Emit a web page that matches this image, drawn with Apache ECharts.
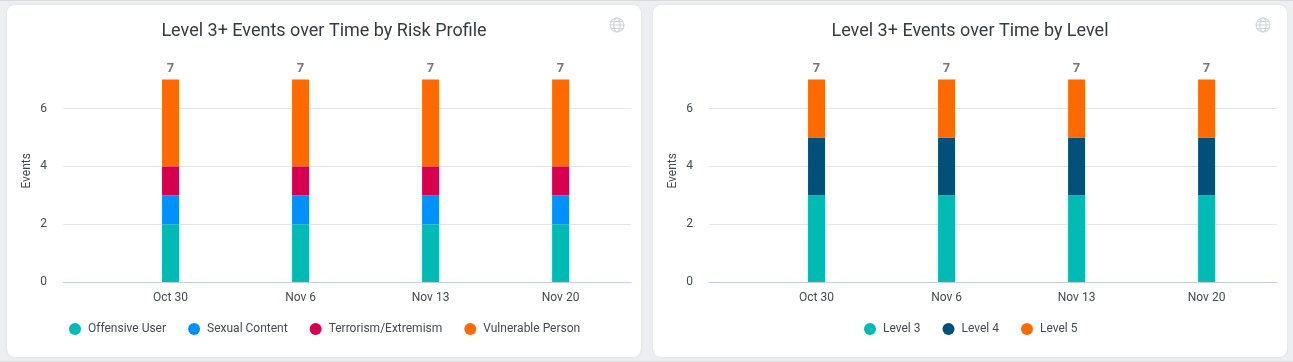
<!DOCTYPE html>
<html><head><meta charset="utf-8">
<style>
html,body{margin:0;padding:0;width:1293px;height:362px;overflow:hidden;background:#eceef1;font-family:Roboto,sans-serif}
body{box-shadow:inset 0 1px 0 #d9dbde,inset 0 -1px 0 #d9dbde}
.card{position:absolute;top:5px;width:634px;height:352px;background:#fff;border-radius:8px;box-shadow:0 0 2px rgba(0,0,0,.1)}
.chart{position:absolute;left:0;top:0;width:634px;height:352px}
.globe{position:absolute;left:602px;top:12px;width:16px;height:16px}
</style>
<script src="https://cdn.jsdelivr.net/npm/echarts@6/dist/echarts.min.js"></script>
</head><body>
<div class="card" style="left:7px"><div class="chart" id="a"></div>
<svg class="globe" viewBox="0 0 16 16" fill="none" stroke="#d2d5d9" stroke-width="1.2"><circle cx="8" cy="8" r="7"/><ellipse cx="8" cy="8" rx="3.2" ry="7"/><path d="M1 8H15M2 4.5H14M2 11.5H14"/></svg></div>
<div class="card" style="left:653px"><div class="chart" id="b"></div>
<svg class="globe" viewBox="0 0 16 16" fill="none" stroke="#d2d5d9" stroke-width="1.2"><circle cx="8" cy="8" r="7"/><ellipse cx="8" cy="8" rx="3.2" ry="7"/><path d="M1 8H15M2 4.5H14M2 11.5H14"/></svg></div>
<script>
const dayOffsets = [0, 7, 14, 21]; // days since Oct 30
const tickLabels = ['Oct 30', 'Nov 6', 'Nov 13', 'Nov 20'];
const totals = [7, 7, 7, 7];
const riskNames = ['Offensive User', 'Sexual Content', 'Terrorism/Extremism', 'Vulnerable Person'];
const offensiveUser = [2, 2, 2, 2];
const sexualContent = [1, 1, 1, 1];
const terrorism = [1, 1, 1, 1];
const vulnerablePerson = [3, 3, 3, 3];
const riskColors = ['#00bbb3', '#0091ff', '#d6004f', '#ff6a00'];
const levelNames = ['Level 3', 'Level 4', 'Level 5'];
const level3 = [3, 3, 3, 3];
const level4 = [2, 2, 2, 2];
const level5 = [2, 2, 2, 2];
const levelColors = ['#00bbb3', '#00507a', '#ff6a00'];
const axisMinDay = -5.79;
const axisMaxDay = 24.79;

function build(el, title, names, values, colors, legendLeft) {
  const chart = echarts.init(document.getElementById(el), null, {renderer: 'canvas'});
  chart.setOption({
    animation: false,
    textStyle: {fontFamily: 'Roboto'},
    title: {text: title, left: 'center', top: 12,
      textStyle: {fontFamily: 'Roboto', fontSize: 18, fontWeight: 400, color: '#333c42'}},
    legend: {bottom: 17, left: legendLeft, icon: 'circle', itemWidth: 12, itemHeight: 12, itemGap: 22,
      selectedMode: false, data: names,
      textStyle: {fontFamily: 'Roboto', fontSize: 12, color: '#444b50', padding: [0, 0, 0, 2]}},
    grid: {left: 56, right: 10, top: 74.6, bottom: 75, containLabel: false},
    xAxis: {type: 'value', min: axisMinDay, max: axisMaxDay,
      axisLine: {show: true, onZero: false, lineStyle: {color: '#c3d0e8', width: 1}},
      axisTick: {show: false, customValues: dayOffsets},
      splitLine: {show: false},
      axisLabel: {customValues: dayOffsets, margin: 10, fontFamily: 'Roboto', fontSize: 12, color: '#444b50',
        hideOverlap: false,
        formatter: v => tickLabels[dayOffsets.indexOf(+v)] || ''}},
    yAxis: {type: 'value', min: 0, max: 7, interval: 2,
      name: 'Events', nameLocation: 'middle', nameGap: 30, nameRotate: 90, nameMoveOverlap: false,
      nameTextStyle: {fontFamily: 'Roboto', fontSize: 12, color: '#444b50', padding: [0, 0, 0, 20]},
      axisLine: {show: false}, axisTick: {show: false},
      splitLine: {show: true, showMaxLine: false, lineStyle: {color: '#e6e6e6', width: 1}},
      axisLabel: {showMaxLabel: false, margin: 16, fontFamily: 'Roboto', fontSize: 12, color: '#444b50'}},
    series: names.map((n, i) => ({
      name: n, type: 'bar', stack: 'total', barWidth: 17, itemStyle: {color: colors[i]},
      encode: {x: 1, y: 0},
      data: dayOffsets.map((t, j) => [values[i][j], t]),
      label: i === names.length - 1 ? {show: true, position: 'top', distance: 4,
        fontFamily: 'Roboto', fontSize: 13, fontWeight: 700, color: '#777777',
        formatter: p => totals[p.dataIndex]} : {show: false}
    }))
  });
}
build('a', 'Level 3+ Events over Time by Risk Profile', riskNames,
  [offensiveUser, sexualContent, terrorism, vulnerablePerson], riskColors, 57);
build('b', 'Level 3+ Events over Time by Level', levelNames,
  [level3, level4, level5], levelColors, 206);
</script>
</body></html>
